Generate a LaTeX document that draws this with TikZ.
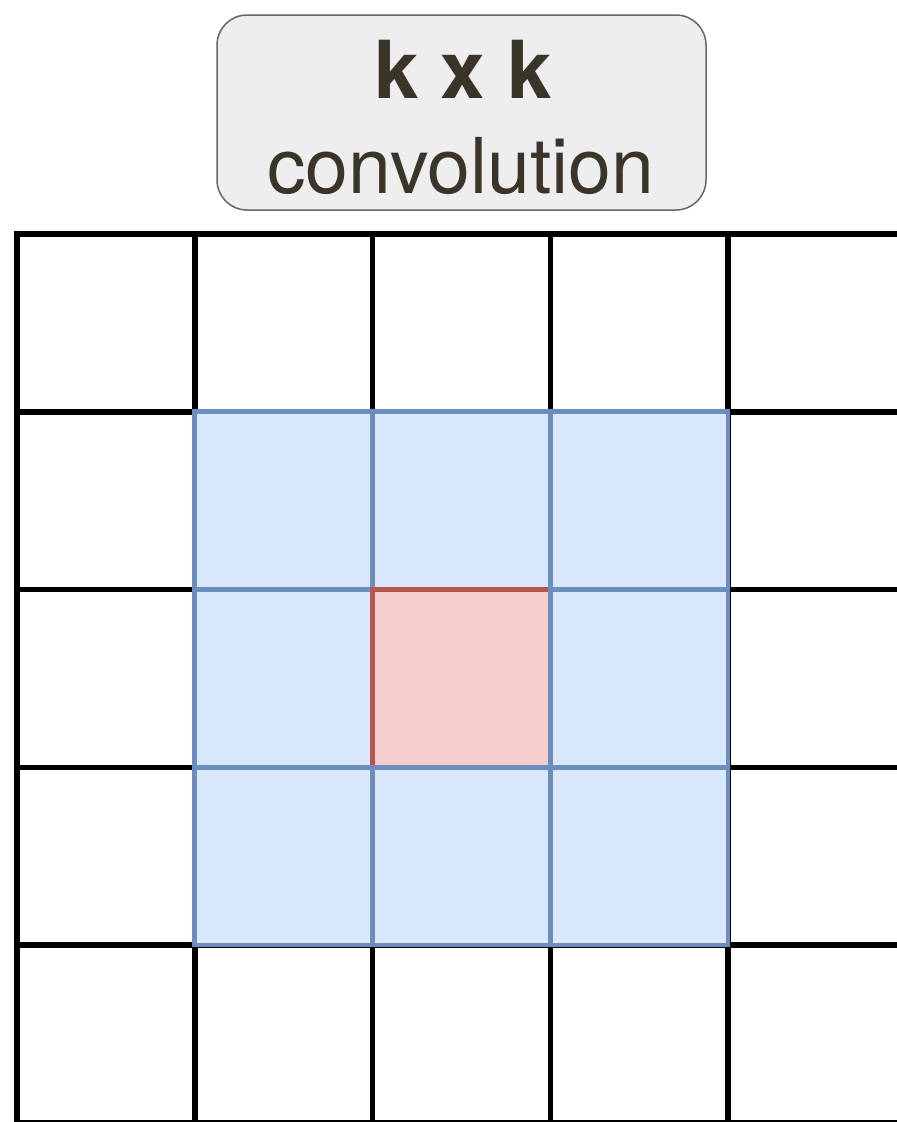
\documentclass[tikz,border=0pt]{standalone}
\usepackage{fontspec}
\setmainfont{TeX Gyre Heros}
\definecolor{txtc}{HTML}{3A3529}
\definecolor{blfill}{HTML}{DAE8FC}
\definecolor{blline}{HTML}{6C8EBF}
\definecolor{rdfill}{HTML}{F8CECC}
\definecolor{rdline}{HTML}{B85450}
\definecolor{boxfill}{HTML}{EEEEEE}
\definecolor{boxline}{HTML}{666666}
\begin{document}
\begin{tikzpicture}[x=1pt,y=-1pt,
  blackcell/.style={draw=black,line width=5.5pt,fill=white},
  bluecell/.style={draw=blline,line width=4.8pt,fill=blfill},
  redcell/.style={draw=rdline,line width=4.8pt,fill=rdfill},
  labelbox/.style={draw=boxline,line width=1.5pt,fill=boxfill,rounded corners=30pt},
  lbl/.style={text=txtc,anchor=base,inner sep=0pt,font=\fontsize{80}{80}\selectfont}]
\useasboundingbox (0,0) rectangle (897,1122);
\clip (0,0) rectangle (897,1122);
\def\cs{177.75}
% black grid
\foreach \c in {0,...,4}{
  \foreach \r in {0,...,4}{
    \draw[blackcell] ({17+\cs*\c},{234+\cs*\r}) rectangle ++(\cs,\cs);
  }
}
% kernel cells
\foreach \r in {1,2,3}{
  \foreach \c in {1,2,3}{
    \ifnum\r=2 \ifnum\c=2
      \draw[redcell] ({17+\cs*\c},{234+\cs*\r}) rectangle ++(\cs,\cs);
    \else
      \draw[bluecell] ({17+\cs*\c},{234+\cs*\r}) rectangle ++(\cs,\cs);
    \fi\else
      \draw[bluecell] ({17+\cs*\c},{234+\cs*\r}) rectangle ++(\cs,\cs);
    \fi
  }
}
% label box
\node[labelbox,minimum width=489pt,minimum height=195pt,inner sep=0pt] (box) at (461.5,112.5) {};
\node[lbl,font=\fontsize{80}{80}\selectfont\bfseries] (title) at (463,98) {k x k};
\node[lbl,font=\fontsize{77}{77}\selectfont] (sub) at (461,193) {convolution};
\end{tikzpicture}
\end{document}
